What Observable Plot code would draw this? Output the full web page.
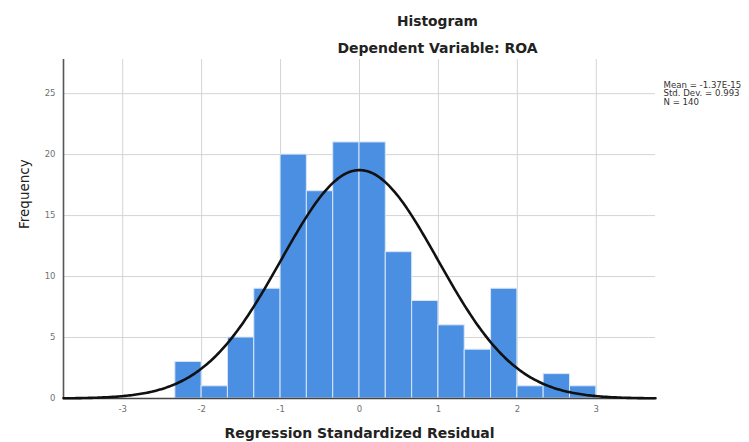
<!DOCTYPE html>
<html>
<head>
<meta charset="utf-8">
<script src="https://cdn.jsdelivr.net/npm/d3@7"></script>
<script src="https://cdn.jsdelivr.net/npm/@observablehq/plot@0.6"></script>
<style>
  html, body { margin: 0; padding: 0; background: #fff; }
</style>
</head>
<body>
<div id="chart"></div>
<script>
// ---- data ----
const binEdges = [-2.333, -2, -1.667, -1.333, -1, -0.667, -0.333, 0, 0.333, 0.667, 1, 1.333, 1.667, 2, 2.333, 2.667, 3];
const frequencies = [3, 1, 5, 9, 20, 17, 21, 21, 12, 8, 6, 4, 9, 1, 2, 1];
const xTicks = [-3, -2, -1, 0, 1, 2, 3];
const yTicks = [0, 5, 10, 15, 20, 25];
const xDomain = [-3.75, 3.75];
const yDomain = [0, 27.8];
const stats = { mean: -1.37e-15, sd: 0.993, n: 140 };
const legendLines = ["Mean = -1.37E-15", "Std. Dev. = 0.993", "N = 140"];
const titleText = "Histogram";
const subtitleText = "Dependent Variable: ROA";
const xLabel = "Regression Standardized Residual";
const yLabel = "Frequency";

// table for bars
const bins = frequencies.map((c, i) => ({ x1: binEdges[i], x2: binEdges[i + 1], count: c }));
// fitted normal curve (defined by the reported mean, sd, N and bin width)
const binWidth = binEdges[1] - binEdges[0];
const curve = d3.range(xDomain[0], xDomain[1] + 1e-9, 0.02).map(x => ({
  x,
  y: stats.n * binWidth * Math.exp(-0.5 * ((x - stats.mean) / stats.sd) ** 2) / (stats.sd * Math.sqrt(2 * Math.PI))
}));

const font = "DejaVu Sans";
const chart = Plot.plot({
  width: 749,
  height: 442,
  marginLeft: 63,
  marginRight: 94,
  marginTop: 59,
  marginBottom: 44,
  style: { fontFamily: font, background: "#fff", overflow: "hidden" },
  x: { domain: xDomain },
  y: { domain: yDomain },
  marks: [
    Plot.gridX(xTicks, { stroke: "#d4d4d4", strokeOpacity: 1, strokeWidth: 1 }),
    Plot.gridY(yTicks.filter(d => d > 0), { stroke: "#d4d4d4", strokeOpacity: 1, strokeWidth: 1 }),
    Plot.rectY(bins, { x1: "x1", x2: "x2", y: "count", fill: "#4b8fe2", stroke: "#d8e6f8", strokeWidth: 1 }),
    Plot.ruleX([xDomain[0]], { stroke: "#555", strokeWidth: 1.6 }),
    Plot.ruleY([0], { stroke: "#444", strokeWidth: 1.4 }),
    Plot.line(curve, { x: "x", y: "y", stroke: "#111", strokeWidth: 2.6 }),
    Plot.axisX({ ticks: xTicks, tickSize: 0, tickPadding: 7, fontSize: 8.5, fill: "#707070", label: null, tickFormat: d => String(d) }),
    Plot.axisY({ ticks: yTicks, tickSize: 0, tickPadding: 8, fontSize: 8.5, fill: "#707070", label: null, tickFormat: d => String(d) }),
    Plot.text([titleText], { frameAnchor: "top", dx: 78, dy: -38, fontSize: 13.8, fontWeight: "bold", fill: "#222", lineAnchor: "middle" }),
    Plot.text([subtitleText], { frameAnchor: "top", dx: 78, dy: -11, fontSize: 14, fontWeight: "bold", fill: "#222", lineAnchor: "middle" }),
    Plot.text([xLabel], { frameAnchor: "bottom", dy: 35, fontSize: 14, fontWeight: "bold", fill: "#222", lineAnchor: "middle" }),
    Plot.text([yLabel], { frameAnchor: "left", dx: -39, rotate: -90, fontSize: 13.5, fill: "#222", lineAnchor: "middle" }),
    Plot.text([legendLines.join("\n")], { frameAnchor: "top-right", dx: 8, dy: 34, textAnchor: "start", lineAnchor: "middle", lineHeight: 1.0, fontSize: 8.6, fill: "#333" })
  ]
});
document.getElementById("chart").appendChild(chart);
</script>
</body>
</html>
